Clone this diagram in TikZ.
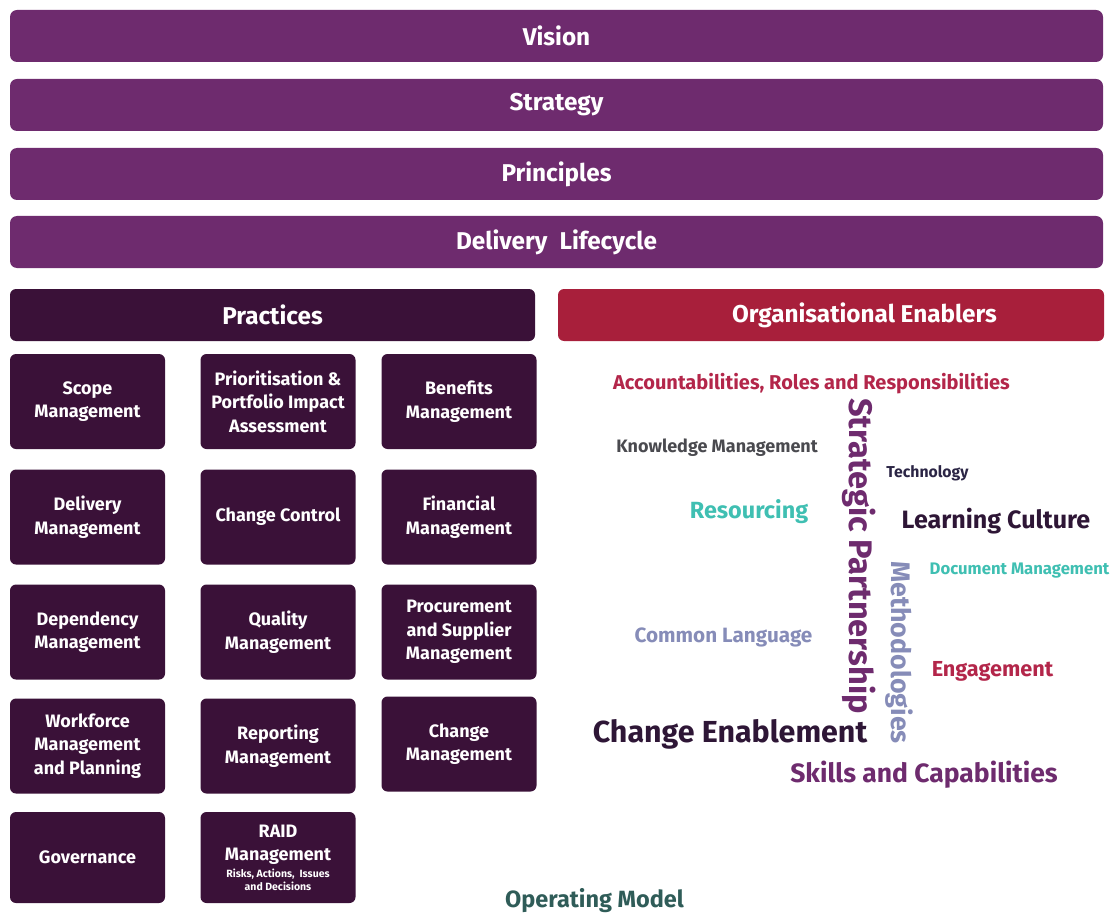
\documentclass[tikz,border=0pt]{standalone}
\usepackage{fontspec}
\setmainfont{Fira Sans}
\newcommand\fsz[2]{\fontsize{#1}{#2}\selectfont}
\definecolor{vio}{HTML}{6E2B6E}
\definecolor{darkp}{HTML}{3A1138}
\definecolor{redc}{HTML}{A81F3B}
\definecolor{wred}{HTML}{B3264A}
\definecolor{wgray}{HTML}{4A4A4F}
\definecolor{wnavy}{HTML}{2B2545}
\definecolor{wteal}{HTML}{3FBFB2}
\definecolor{wdark}{HTML}{2E1636}
\definecolor{wblue}{HTML}{868CB8}
\definecolor{wgreen}{HTML}{2F5C58}
\begin{document}
\begin{tikzpicture}[x=1pt,y=-1pt,
  bar/.style={rectangle, rounded corners=7pt, fill=vio, text=white, minimum width=1093pt, minimum height=52pt, inner sep=0pt, font=\fsz{24.3}{28}\bfseries},
  head/.style={rectangle, rounded corners=6pt, text=white, minimum height=52pt, inner sep=0pt, font=\fsz{24.3}{28}\bfseries},
  pbox/.style={rectangle, rounded corners=6pt, fill=darkp, text=white, minimum width=155pt, minimum height=95pt, inner sep=0pt, align=center, font=\fsz{18}{23.5}\bfseries},
  ptext/.style={text=white, inner sep=0pt, align=center, font=\fsz{18}{23.5}\bfseries},
  pnote/.style={text=white, inner sep=0pt, align=center, font=\fsz{10.5}{12.5}\bfseries},
  word/.style={inner sep=0pt, anchor=mid, font=\bfseries}]
\useasboundingbox (0,0) rectangle (1115,917);
% top bars
\node[bar] (vision) at (556.5,36) {Vision};
\node[bar] (strategy) at (556.5,105) {Strategy};
\node[bar] (principles) at (556.5,174) {Principles};
\node[bar] (delivery) at (556.5,242) {Delivery\enspace Lifecycle};
% headers
\node[head, fill=darkp, minimum width=525pt] (practices) at (272.5,315) {Practices};
\node[head, fill=redc, minimum width=546pt] (enablers) at (831,315) {\hspace*{67pt}Organisational Enablers};
% practice boxes
\node[pbox] (scope) at (87.5,401.5) {Scope\\Management};
\node[pbox] (prior) at (278,401.5) {Prioritisation \&\\Portfolio Impact\\Assessment};
\node[pbox] (benefits) at (459,401.5) {Benefits\\Management};
\node[pbox] (delman) at (87.5,517) {Delivery\\Management};
\node[pbox] (chctrl) at (278,517) {Change Control};
\node[pbox] (fin) at (459,517) {Financial\\Management};
\node[pbox] (dep) at (87.5,632) {Dependency\\Management};
\node[pbox] (qual) at (278,632) {Quality\\Management};
\node[pbox] (proc) at (459,632) {Procurement\\and Supplier\\Management};
\node[pbox] (work) at (87.5,746) {Workforce\\Management\\and Planning};
\node[pbox] (rep) at (278,746) {Reporting\\Management};
\node[pbox] (chman) at (459,744) {Change\\Management};
\node[pbox, minimum height=91pt] (gov) at (87.5,857.5) {Governance};
\node[pbox, minimum height=91pt] (raid) at (278,857.5) {};
\node[ptext] (raidt) at (278,845) {RAID\\Management};
\node[pnote] (raidn) at (278,880) {Risks, Actions,\ \ Issues\\and Decisions};
% word cloud
\node[word, text=wred, font=\fsz{20}{24}\bfseries] (acc) at (811.5,387) {Accountabilities, Roles and Responsibilities};
\node[word, text=wgray, font=\fsz{18}{21}\bfseries] (know) at (717,450) {Knowledge Management};
\node[word, text=wnavy, font=\fsz{15.8}{19}\bfseries] (tech) at (927.5,475) {Technology};
\node[word, text=wteal, font=\fsz{23.4}{28}\bfseries] (res) at (749,516) {Resourcing};
\node[word, text=wdark, font=\fsz{25.1}{30}\bfseries] (learn) at (996,526) {Learning Culture};
\node[word, text=wteal, font=\fsz{16.7}{20}\bfseries] (doc) at (1019.5,572) {Document Management};
\node[word, text=wblue, font=\fsz{20.7}{24}\bfseries] (common) at (723.5,640) {Common Language};
\node[word, text=wred, font=\fsz{21.7}{26}\bfseries] (eng) at (992.5,674) {Engagement};
\node[word, text=wdark, font=\fsz{30.4}{36}\bfseries] (chen) at (730,740) {Change Enablement};
\node[word, text=vio, font=\fsz{26.5}{32}\bfseries] (skills) at (924,780) {Skills and Capabilities};
\node[word, text=vio, font=\fsz{32.6}{38}\bfseries, rotate=-90] (sp) at (852,556) {Strategic Partnership};
\node[word, text=wblue, font=\fsz{26.8}{32}\bfseries, rotate=-90] (meth) at (894,652.5) {Methodologies};
\node[word, text=wgreen, font=\fsz{23.5}{28}\bfseries] (om) at (594.5,905) {Operating Model};
\end{tikzpicture}
\end{document}
